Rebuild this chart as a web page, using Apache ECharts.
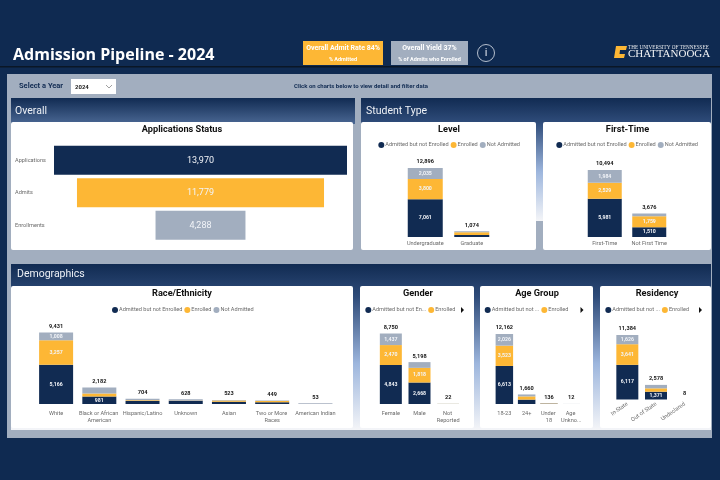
<!DOCTYPE html>
<html>
<head>
<meta charset="utf-8">
<title>Admission Pipeline - 2024</title>
<script src="https://cdn.jsdelivr.net/npm/echarts@6/dist/echarts.min.js"></script>
<style>
    html, body { margin: 0; padding: 0; background: #0f2a51; }
    #main { width: 720px; height: 480px; }
</style>
</head>
<body>
<div id="main"></div>
<script>
// 数据
var funnelCats = ['Applications', 'Admits', 'Enrollments'];
var funnelVals = [13970, 11779, 4288];

var levelCats = ['Undergraduate', 'Graduate'];
var levelNotEnrolled = [7061, 390];
var levelEnrolled = [3800, 480];
var levelNotAdmitted = [2035, 204];
var levelTotals = [12896, 1074];

var firstCats = ['First-Time', 'Not First Time'];
var firstNotEnrolled = [5981, 1510];
var firstEnrolled = [2529, 1759];
var firstNotAdmitted = [1984, 407];
var firstTotals = [10494, 3676];

var raceCats = ['White', 'Black or African American', 'Hispanic/Latino', 'Unknown', 'Asian', 'Two or More Races', 'American Indian'];
var raceNotEnrolled = [5166, 981, 380, 430, 290, 220, 25];
var raceEnrolled = [3257, 400, 130, 30, 160, 170, 15];
var raceNotAdmitted = [1008, 801, 194, 168, 73, 59, 13];
var raceTotals = [9431, 2182, 704, 628, 523, 449, 53];

var genderCats = ['Female', 'Male', 'Not Reported'];
var genderNotEnrolled = [4843, 2668, 10];
var genderEnrolled = [2470, 1818, 8];
var genderNotAdmitted = [1437, 712, 4];
var genderTotals = [8750, 5198, 22];

var ageCats = ['18-23', '24+', 'Under 18', 'Age Unkno...'];
var ageNotEnrolled = [6613, 760, 60, 6];
var ageEnrolled = [3523, 560, 50, 3];
var ageNotAdmitted = [2026, 340, 26, 3];
var ageTotals = [12162, 1660, 136, 12];

var resCats = ['In-State', 'Out of State', 'Undeclared'];
var resNotEnrolled = [6117, 1371, 4];
var resEnrolled = [3641, 600, 2];
var resNotAdmitted = [1626, 607, 2];
var resTotals = [11384, 2578, 8];

var NAVY = '#112b52', GOLD = '#fdb735', GRAY = '#a2aebf';
var FONT = 'Roboto';
var NAME_A = 'Admitted but not Enrolled', NAME_B = 'Enrolled', NAME_C = 'Not Admitted';

var myChart = echarts.init(document.getElementById('main'), null, { renderer: 'canvas' });

var grids = [], xAxes = [], yAxes = [], series = [], legends = [];

function fmt(v) {
    return Number(v).toLocaleString('en-US');
}

// 堆叠柱状图
function addStack(cfg) {
    var idx = grids.length;
    grids.push({ left: cfg.x0, width: cfg.x1 - cfg.x0, top: cfg.top, height: cfg.base - cfg.top });
    xAxes.push({
        type: 'category', gridIndex: idx, data: cfg.cats,
        axisLine: { show: false }, axisTick: { show: false },
        axisLabel: {
            interval: 0, margin: cfg.margin || 6, fontSize: 5.6, color: '#6a6a6a', fontFamily: FONT,
            lineHeight: 7, rotate: cfg.rotate || 0,
            width: cfg.rotate ? undefined : cfg.labelWidth, overflow: cfg.rotate ? 'none' : 'break'
        }
    });
    var maxTotal = Math.max.apply(null, cfg.totals);
    yAxes.push({ type: 'value', gridIndex: idx, min: 0, max: maxTotal, show: false });

    [[NAME_A, cfg.a, NAVY], [NAME_B, cfg.b, GOLD], [NAME_C, cfg.c, GRAY]].forEach(function (s) {
        series.push({
            name: s[0], type: 'bar', stack: 'st' + idx, xAxisIndex: idx, yAxisIndex: idx,
            data: s[1], barWidth: cfg.barWidth, silent: true,
            itemStyle: { color: s[2] },
            label: {
                show: true, position: 'inside', fontSize: 5.2, fontWeight: 'bold', color: '#f2f4f8', fontFamily: FONT,
                formatter: function (p) {
                    // 太矮的柱段不显示数值
                    return p.value / maxTotal >= 0.1 ? fmt(p.value) : '';
                }
            }
        });
    });
    // 顶部合计
    series.push({
        name: 'Total', type: 'line', xAxisIndex: idx, yAxisIndex: idx, data: cfg.totals,
        symbolSize: 0, lineStyle: { opacity: 0 }, silent: true,
        label: {
            show: true, position: 'top', distance: 3, fontSize: 5.6, fontWeight: 'bold', color: '#151515', fontFamily: FONT,
            formatter: function (p) { return fmt(p.value); }
        }
    });

    var items = [{ name: NAME_A }, { name: NAME_B }, { name: NAME_C }];
    if (cfg.legendWidth) {
        items = [{ name: NAME_A, textStyle: { width: cfg.legendWidth, overflow: 'truncate', ellipsis: '...' } }, { name: NAME_B }];
    }
    legends.push({
        left: cfg.legendX, top: cfg.legendY - 3, padding: 0, itemGap: 2, itemWidth: 6, itemHeight: 6,
        icon: 'circle', selectedMode: false, data: items,
        textStyle: { fontSize: 5.6, color: '#6a6a6a', fontFamily: FONT, padding: [0, 0, 0, -4] }
    });
}

addStack({ cats: levelCats, a: levelNotEnrolled, b: levelEnrolled, c: levelNotAdmitted, totals: levelTotals,
    x0: 402, x1: 495, top: 168, base: 237, barWidth: 35, legendX: 378.3, legendY: 145, labelWidth: 60, margin: 3 });
addStack({ cats: firstCats, a: firstNotEnrolled, b: firstEnrolled, c: firstNotAdmitted, totals: firstTotals,
    x0: 582.5, x1: 671.5, top: 170, base: 237, barWidth: 34, legendX: 556.3, legendY: 145, labelWidth: 60, margin: 3 });
addStack({ cats: raceCats, a: raceNotEnrolled, b: raceEnrolled, c: raceNotAdmitted, totals: raceTotals,
    x0: 34.5, x1: 337, top: 332.5, base: 404, barWidth: 34, legendX: 112, legendY: 310, labelWidth: 45, margin: 6.5 });
addStack({ cats: genderCats, a: genderNotEnrolled, b: genderEnrolled, c: genderNotAdmitted, totals: genderTotals,
    x0: 376.5, x1: 462.5, top: 333.5, base: 404, barWidth: 22, legendX: 365.3, legendY: 310, labelWidth: 27, legendWidth: 56, margin: 6.5 });
addStack({ cats: ageCats, a: ageNotEnrolled, b: ageEnrolled, c: ageNotAdmitted, totals: ageTotals,
    x0: 493.2, x1: 582.4, top: 334, base: 404, barWidth: 17.5, legendX: 484.7, legendY: 310, labelWidth: 22, legendWidth: 51, margin: 6.5 });
addStack({ cats: resCats, a: resNotEnrolled, b: resEnrolled, c: resNotAdmitted, totals: resTotals,
    x0: 613, x1: 699, top: 335, base: 399.5, barWidth: 22, legendX: 605.3, legendY: 310, rotate: 35, margin: 4, legendWidth: 52 });

// 漏斗：两边留白相等的横向条
var fIdx = grids.length;
var funnelMax = Math.max.apply(null, funnelVals);
grids.push({ left: 54, width: 293, top: 144, height: 97.5 });
xAxes.push({ type: 'value', gridIndex: fIdx, min: 0, max: funnelMax, show: false });
yAxes.push({
    type: 'category', gridIndex: fIdx, inverse: true, data: funnelCats,
    axisLine: { show: false }, axisTick: { show: false },
    axisLabel: { align: 'left', margin: 39, fontSize: 5.6, color: '#6a6a6a', fontFamily: FONT }
});
series.push({
    name: 'pad', type: 'bar', stack: 'funnel', xAxisIndex: fIdx, yAxisIndex: fIdx, barWidth: 29, silent: true,
    itemStyle: { color: 'transparent' },
    data: funnelVals.map(function (v) { return (funnelMax - v) / 2; })
});
series.push({
    name: 'Applications Status', type: 'bar', stack: 'funnel', xAxisIndex: fIdx, yAxisIndex: fIdx, barWidth: 29, silent: true,
    data: funnelVals.map(function (v, i) {
        return { value: v, itemStyle: { color: [NAVY, GOLD, GRAY][i] } };
    }),
    label: {
        show: true, position: 'inside', fontSize: 9, color: '#f2f4f8', fontFamily: FONT,
        formatter: function (p) { return fmt(p.value); }
    }
});

// 页面底板与文字
function rect(x, y, w, h, fill, r) {
    return { type: 'rect', shape: { x: x, y: y, width: w, height: h, r: r || 0 }, style: { fill: fill }, silent: true };
}
function text(x, y, str, size, color, weight, align, family) {
    return {
        type: 'text', x: x, y: y, silent: true,
        style: {
            text: str, fontSize: size, fill: color, fontWeight: weight || 'normal', fontFamily: family || FONT,
            align: align || 'left', verticalAlign: 'middle'
        }
    };
}
function vGrad(stops) {
    return new echarts.graphic.LinearGradient(0, 0, 0, 1, stops.map(function (s) { return { offset: s[0], color: s[1] }; }));
}
function arrow(x, y) {
    return { type: 'polygon', shape: { points: [[x, y - 3], [x + 3, y], [x, y + 3]] }, style: { fill: '#111' }, silent: true };
}

var headerGrad = [[0, '#112b52'], [1, '#4a6793']];
var sectionGrad = [[0, '#112b52'], [0.2, '#2f4c7a'], [0.6, '#9db6dd'], [1, '#f4f5f8']];

var shapes = [
    rect(0, 66, 720, 1.5, '#0a1626'),
    rect(7, 74, 705, 364, GRAY),
    rect(11, 98, 344, 26, vGrad(headerGrad)),
    rect(361, 98, 350, 123, vGrad(sectionGrad)),
    rect(11, 264, 700, 166, vGrad(sectionGrad)),

    rect(11, 122, 342, 128, '#fff', 2),
    rect(361, 122, 175, 128, '#fff', 2),
    rect(543, 122, 168, 128, '#fff', 2),
    rect(11, 286, 342, 142, '#fff', 2),
    rect(360, 286, 114, 142, '#fff', 2),
    rect(480, 286, 113, 142, '#fff', 2),
    rect(600, 286, 111, 142, '#fff', 2),

    // 顶部
    text(13, 55, 'Admission Pipeline - 2024', 16, '#fff', 'bold', 'left', 'Open Sans'),
    rect(303, 41, 80, 24, GOLD),
    text(343, 48, 'Overall Admit Rate 84%', 7, '#fff', 'bold', 'center'),
    text(343, 59.5, '% Admitted', 5.5, '#fff', 'bold', 'center'),
    rect(391, 41, 77, 24, GRAY),
    text(429.5, 48, 'Overall Yield 37%', 7, '#fff', 'bold', 'center'),
    text(429.5, 59.5, '% of Admits who Enrolled', 5.5, '#fff', 'bold', 'center'),
    { type: 'circle', shape: { cx: 486, cy: 53, r: 8.5 }, style: { fill: 'none', stroke: '#dfe4ec', lineWidth: 0.8 }, silent: true },
    text(486, 53.5, 'i', 11, '#dfe4ec', 'normal', 'center'),

    // 校徽
    { type: 'polygon', silent: true, shape: { points: [[616, 46], [627, 46], [626, 50], [620, 50], [619.5, 54], [625, 54], [624, 58], [614, 58]] }, style: { fill: GOLD } },
    text(628, 47.5, 'THE UNIVERSITY OF TENNESSEE', 5.2, '#e6e8ec', 'normal', 'left', 'Liberation Serif'),
    text(628, 54.5, 'CHATTANOOGA', 11, '#f2f3f5', 'normal', 'left', 'Liberation Serif'),

    // 筛选行
    text(19, 86, 'Select a Year', 7.5, NAVY, 'bold'),
    rect(71, 79, 45, 15, '#fff'),
    text(75, 87, '2024', 6, '#222', 'bold'),
    { type: 'polyline', silent: true, shape: { points: [[106, 85], [109, 88], [112, 85]] }, style: { fill: 'none', stroke: '#777', lineWidth: 0.7 } },
    text(294, 86.5, 'Click on charts below to view detail and filter data', 6, NAVY, 'bold'),

    // 分区标题
    text(15, 111, 'Overall', 10.5, '#eef1f6'),
    text(366, 111, 'Student Type', 10.5, '#eef1f6'),
    text(17, 274, 'Demographics', 10.5, '#eef1f6'),

    // 图表标题
    text(182, 129.5, 'Applications Status', 9.2, '#111', 'bold', 'center'),
    text(449, 129.5, 'Level', 9.2, '#111', 'bold', 'center'),
    text(627.5, 129.5, 'First-Time', 9.2, '#111', 'bold', 'center'),
    text(182, 294, 'Race/Ethnicity', 9.2, '#111', 'bold', 'center'),
    text(418, 294, 'Gender', 9.2, '#111', 'bold', 'center'),
    text(537, 294, 'Age Group', 9.2, '#111', 'bold', 'center'),
    text(657, 294, 'Residency', 9.2, '#111', 'bold', 'center'),

    // 图例翻页箭头
    arrow(461, 310),
    arrow(580.5, 310),
    arrow(699, 310)
];

var option = {
    backgroundColor: '#0f2a51',
    animation: false,
    graphic: { elements: shapes },
    legend: legends,
    grid: grids,
    xAxis: xAxes,
    yAxis: yAxes,
    series: series
};
myChart.setOption(option);
</script>
</body>
</html>
